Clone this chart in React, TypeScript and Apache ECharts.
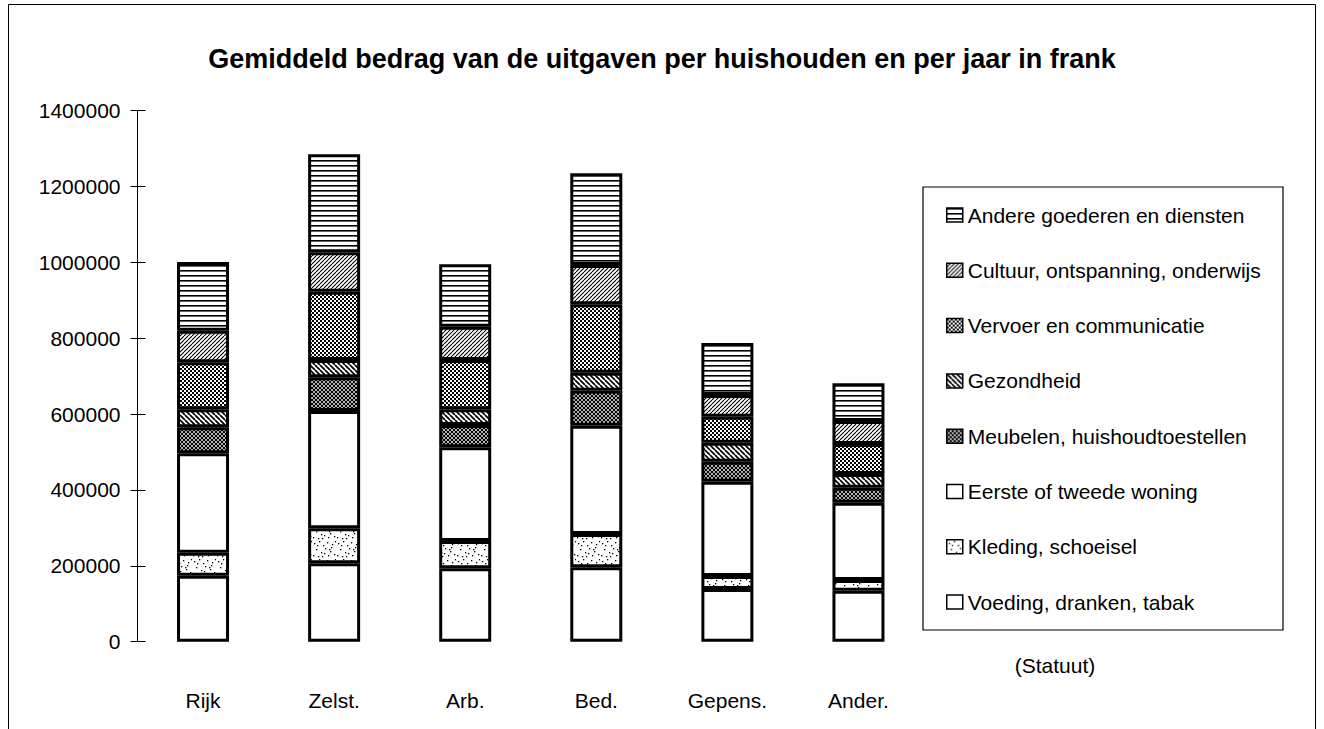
import React, { useEffect, useRef } from "react";
import * as echarts from "echarts";

const categories = ["Rijk", "Zelst.", "Arb.", "Bed.", "Gepens.", "Ander."];
const seriesNames = [
  "Voeding, dranken, tabak",
  "Kleding, schoeisel",
  "Eerste of tweede woning",
  "Meubelen, huishoudtoestellen",
  "Gezondheid",
  "Vervoer en communicatie",
  "Cultuur, ontspanning, onderwijs",
  "Andere goederen en diensten",
];
const voeding = [174000, 206700, 193500, 196100, 139000, 134500];
const kleding = [60600, 92300, 72000, 87900, 34200, 28200];
const woning = [262100, 309200, 247000, 285500, 248600, 203800];
const meubelen = [68600, 88900, 58800, 92300, 52800, 39500];
const gezondheid = [47400, 45600, 41400, 47400, 50100, 36100];
const vervoer = [124300, 180100, 130000, 180300, 68500, 79100];
const cultuur = [83000, 103900, 87800, 103700, 57200, 60700];
const andere = [181000, 258300, 164500, 241800, 137100, 99400];
const yTicks = { min: 0, max: 1400000, interval: 200000 };

const FONT = "'Liberation Sans', Arial, Helvetica, sans-serif";

function makePattern(w: number, h: number, draw: (ctx: CanvasRenderingContext2D) => void) {
  const c = document.createElement("canvas");
  c.width = w;
  c.height = h;
  const ctx = c.getContext("2d")!;
  ctx.fillStyle = "#fff";
  ctx.fillRect(0, 0, w, h);
  ctx.fillStyle = "#000";
  ctx.strokeStyle = "#000";
  draw(ctx);
  return { image: c, repeat: "repeat" };
}

export default function App() {
  const ref = useRef<HTMLDivElement>(null);
  useEffect(() => {
    if (!ref.current) return;
    const chart = echarts.init(ref.current, null, { renderer: "svg" });

    const white = "#ffffff";
    const speckle = makePattern(24, 18, (ctx) => {
      const dots = [
        [2, 3], [7, 1], [11, 5], [15, 2], [20, 4], [4, 9], [9, 12], [13, 8],
        [18, 11], [22, 14], [1, 15], [6, 16], [16, 15], [12, 13], [19, 7], [23, 1],
        [5, 5], [17, 9], [10, 16],
      ];
      dots.forEach(([x, y]) => ctx.fillRect(x, y, 1.3, 1.3));
    });
    const fineCross = makePattern(4, 4, (ctx) => {
      ctx.lineWidth = 1.2;
      for (let k = -1; k <= 1; k++) {
        ctx.beginPath();
        ctx.moveTo(k * 4, 4);
        ctx.lineTo(k * 4 + 4, 0);
        ctx.stroke();
        ctx.beginPath();
        ctx.moveTo(k * 4, 0);
        ctx.lineTo(k * 4 + 4, 4);
        ctx.stroke();
      }
    });
    const backDiag = makePattern(5, 5, (ctx) => {
      ctx.lineWidth = 1.7;
      for (let k = -1; k <= 1; k++) {
        ctx.beginPath();
        ctx.moveTo(k * 5, 0);
        ctx.lineTo(k * 5 + 5, 5);
        ctx.stroke();
      }
    });
    const checker = makePattern(4, 4, (ctx) => {
      ctx.fillRect(0, 0, 2, 2);
      ctx.fillRect(2, 2, 2, 2);
    });
    const fwdDiag = makePattern(4, 4, (ctx) => {
      ctx.lineWidth = 1.1;
      for (let k = -1; k <= 1; k++) {
        ctx.beginPath();
        ctx.moveTo(k * 4, 4);
        ctx.lineTo(k * 4 + 4, 0);
        ctx.stroke();
      }
    });
    const horiz = makePattern(8, 5, (ctx) => {
      ctx.fillRect(0, 0, 8, 1.6);
    });

    const fills = [white, speckle, white, fineCross, backDiag, checker, fwdDiag, horiz];
    const values = [voeding, kleding, woning, meubelen, gezondheid, vervoer, cultuur, andere];

    const series: any[] = seriesNames.map((name, i) => ({
      name,
      type: "bar",
      stack: "total",
      barWidth: 52,
      data: values[i],
      itemStyle: { color: fills[i], borderColor: "#000", borderWidth: 3 },
      emphasis: { disabled: true },
      silent: true,
    }));

    chart.setOption({
      animation: false,
      backgroundColor: "#fff",
      title: {
        text: "Gemiddeld bedrag van de uitgaven per huishouden en per jaar in frank",
        left: "center",
        top: 40,
        textStyle: { fontFamily: FONT, fontSize: 27, fontWeight: "bold", color: "#000" },
      },
      grid: { left: 137.5, right: 400, top: 110.7, bottom: 87.3, containLabel: false },
      xAxis: {
        type: "category",
        data: categories,
        axisLine: { show: false },
        axisTick: { show: false },
        axisLabel: { margin: 48, fontFamily: FONT, fontSize: 21, color: "#000" },
      },
      yAxis: [
        {
          type: "value",
          ...yTicks,
          axisLine: { show: true, lineStyle: { color: "#000", width: 1 } },
          axisTick: { show: true, length: 7, lineStyle: { color: "#000", width: 1 } },
          splitLine: { show: false },
          axisLabel: {
            margin: 17,
            fontFamily: FONT,
            fontSize: 21,
            color: "#000",
            formatter: (v: number) => String(v),
          },
        },
        {
          type: "value",
          position: "left",
          offset: 0,
          ...yTicks,
          axisLine: { show: false },
          axisTick: { show: true, inside: true, length: 8, lineStyle: { color: "#000", width: 1 } },
          splitLine: { show: false },
          axisLabel: { show: false },
        },
      ],
      legend: {
        orient: "vertical",
        left: 946,
        top: 204.5,
        padding: 0,
        itemWidth: 16,
        itemHeight: 14,
        itemGap: 34.3,
        selectedMode: false,
        data: [...seriesNames].reverse(),
        icon: "rect",
        itemStyle: { borderColor: "#000", borderWidth: 1.5 },
        textStyle: { fontFamily: FONT, fontSize: 21, color: "#000" },
      },
      graphic: [
        {
          type: "rect",
          shape: { x: 8.5, y: 4.5, width: 1307, height: 800 },
          style: { fill: "none", stroke: "#000", lineWidth: 1 },
          silent: true,
        },
        {
          type: "rect",
          shape: { x: 923, y: 187, width: 360, height: 443 },
          style: { fill: "none", stroke: "#000", lineWidth: 1.2 },
          silent: true,
        },
        {
          type: "text",
          x: 1055,
          y: 665,
          style: {
            text: "(Statuut)",
            fontFamily: FONT,
            fontSize: 21,
            fill: "#000",
            align: "center",
            verticalAlign: "middle",
          },
          silent: true,
        },
      ],
      series,
    });
    return () => chart.dispose();
  }, []);
  return (
    <div
      ref={ref}
      style={{ position: "fixed", left: 0, top: 0, width: 1324, height: 729, background: "#fff" }}
    />
  );
}
